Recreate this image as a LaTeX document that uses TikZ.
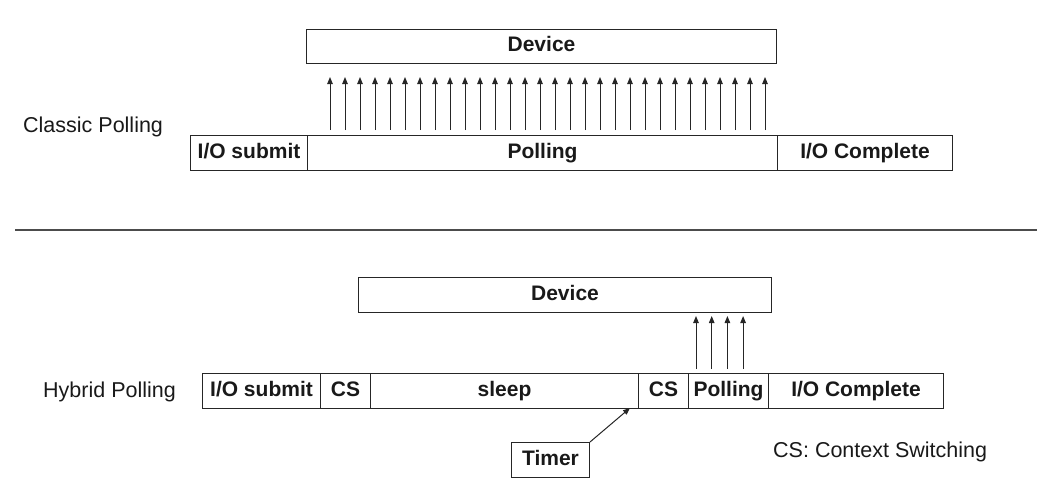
\documentclass[tikz,border=0pt]{standalone}
\usepackage{fontspec}
\setmainfont{Liberation Sans}
\usetikzlibrary{arrows.meta,calc}
\begin{document}
\begin{tikzpicture}[x=1pt,y=-1pt,
  box/.style={draw=black!85, line width=1pt, inner sep=0pt, anchor=north west,
    text height=15pt, text depth=5pt,
    font=\fontsize{21}{24}\selectfont\bfseries, text=black!90},
  lbl/.style={inner sep=0pt, anchor=west, font=\fontsize{21.5}{24}\selectfont, text=black!90},
  arr/.style={draw=black!85, line width=1pt, -{Triangle[length=7pt,width=5.5pt]}}]
\useasboundingbox (0,0) rectangle (1044,488);
% separator
\draw[line width=1.5pt, black!70] (15,230) coordinate (sepL) -- (1037,230) coordinate (sepR);
% ---------- Classic polling ----------
\node[lbl] (classic) at (23,127) {Classic Polling};
\node[box, minimum width=470, minimum height=34] (dev1) at (306,29) {Device};
\node[box, minimum width=117, minimum height=35] (sub1) at (190,135) {I/O submit};
\node[box, minimum width=470, minimum height=35] (poll1) at (307,135) {Polling};
\node[box, minimum width=175, minimum height=35] (ioc1) at (777,135) {I/O Complete};
\foreach \i in {0,...,29}{
  \coordinate (a\i) at (330+15*\i,130);
  \coordinate (b\i) at (330+15*\i,77);
  \draw[arr] (a\i) -- (b\i);
}
% ---------- Hybrid polling ----------
\node[lbl] (hybrid) at (43,392) {Hybrid Polling};
\node[box, minimum width=413, minimum height=35] (dev2) at (358,277) {Device};
\node[box, minimum width=118, minimum height=35] (sub2) at (202,373) {I/O submit};
\node[box, minimum width=50, minimum height=35] (cs1) at (320,373) {CS};
\node[box, minimum width=268, minimum height=35] (sleep) at (370,373) {sleep};
\node[box, minimum width=50, minimum height=35] (cs2) at (638,373) {CS};
\node[box, minimum width=80, minimum height=35] (poll2) at (688,373) {Polling};
\node[box, minimum width=175, minimum height=35] (ioc2) at (768,373) {I/O Complete};
\foreach \i in {0,...,3}{
  \coordinate (c\i) at (696+15.7*\i,369);
  \coordinate (d\i) at (696+15.7*\i,316);
  \draw[arr] (c\i) -- (d\i);
}
\node[box, minimum width=78, minimum height=35] (timer) at (511,442) {Timer};
\coordinate (tip) at (630,408);
\draw[arr] (timer.north east) -- (tip);
\node[lbl] (legend) at (773,452) {CS: Context Switching};
\end{tikzpicture}
\end{document}
